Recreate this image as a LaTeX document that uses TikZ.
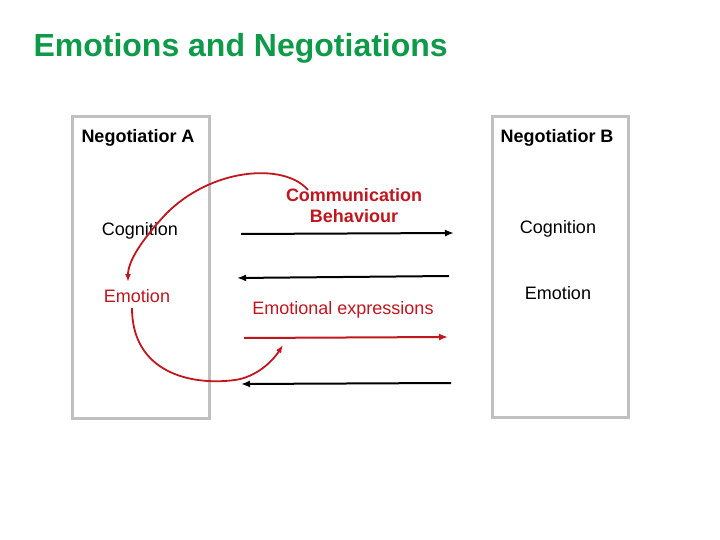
\documentclass[tikz,border=0pt]{standalone}
\usepackage{fontspec}
\setmainfont{Liberation Sans}
\usetikzlibrary{positioning,arrows.meta}
\definecolor{titlegreen}{HTML}{0E9A48}
\definecolor{exprred}{HTML}{C0161E}
\definecolor{framegray}{HTML}{C0C0C0}

\begin{document}
\begin{tikzpicture}[x=1pt, y=-1pt,
  negbox/.style={draw=framegray, line width=3pt},
  headtext/.style={font=\fontsize{18}{21}\selectfont\bfseries},
  plaintext/.style={font=\fontsize{18}{21}\selectfont},
  flowarrow/.style={-{Latex[length=9pt,width=7pt]}, line width=2pt},
  loopcurve/.style={-{Latex[length=8pt,width=6pt]}, line width=1.8pt, color=exprred}]
\useasboundingbox (0,0) rectangle (720,540);
% title
\node[anchor=west, text=titlegreen, font=\fontsize{32}{36}\selectfont\bfseries] (title) at (30,48) {Emotions and Negotiations};
% the two negotiators
\draw[negbox] (72,117) rectangle (209,418);
\draw[negbox] (492,117) rectangle (628,417);
\node[headtext] (negA) at (138,138) {Negotiatior A};
\node[headtext] (negB) at (557,138) {Negotiatior B};
\node[plaintext] (cogA) at (140,231) {Cognition};
\node[plaintext, text=exprred] (emoA) at (137,296) {Emotion};
\node[plaintext] (cogB) at (558,229) {Cognition};
\node[plaintext] (emoB) at (558,293) {Emotion};
% channel labels
\node[headtext, text=exprred, align=center] (comm) at (354,206) {Communication\\Behaviour};
\node[plaintext, text=exprred] (expr) at (343,310) {Emotional expressions};
% channel endpoints
\coordinate (c1a) at (241,234);
\coordinate (c1b) at (454,233);
\coordinate (c2a) at (449,276);
\coordinate (c2b) at (237,278);
\coordinate (c3a) at (244,338);
\coordinate (c3b) at (448,337);
\coordinate (c4a) at (451,383);
\coordinate (c4b) at (241,384);
\draw[flowarrow] (c1a) -- (c1b);
\draw[flowarrow] (c2a) -- (c2b);
\draw[flowarrow, color=exprred] (c3a) -- (c3b);
\draw[flowarrow] (c4a) -- (c4b);
% feedback loops
\coordinate (loopstart) at (308,190);
\coordinate (looptip) at (283,345);
\draw[loopcurve] (loopstart) .. controls (284,162) and (210,168) .. (165,215)
  .. controls (140,242) and (128,262) .. (128,282);
\draw[loopcurve] (132,308) .. controls (132,372) and (190,386) .. (235,380)
  .. controls (256,377) and (272,362) .. (looptip);
\end{tikzpicture}
\end{document}
